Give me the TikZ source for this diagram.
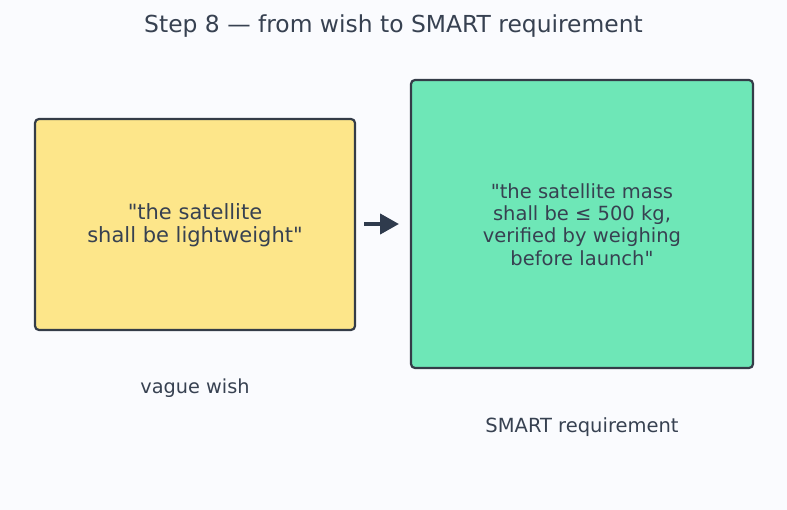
\documentclass[tikz,border=0pt]{standalone}
\usepackage{fontspec}
\setmainfont{DejaVu Sans}[Ligatures=TeXOff]
\usetikzlibrary{arrows.meta}
\definecolor{bg}{HTML}{FAFBFE}
\definecolor{ink}{HTML}{374151}
\definecolor{edge}{HTML}{343C48}
\definecolor{arrowc}{HTML}{2F3B4D}
\definecolor{yel}{HTML}{FDE68A}
\definecolor{grn}{HTML}{6EE7B7}
\begin{document}
\begin{tikzpicture}[x=1pt,y=-1pt,
  box/.style={draw=edge, line width=2.2pt, rounded corners=4pt},
  txt/.style={text=ink, align=center, inner sep=0pt},
]
\fill[bg] (0,0) rectangle (787,510);
\useasboundingbox (0,0) rectangle (787,510);
\node[txt, font=\fontsize{23.4}{28}\selectfont] (title) at (393.5,26) {Step 8 — from wish to SMART requirement};
\draw[box, fill=yel] (35,119) rectangle (355,330);
\draw[box, fill=grn] (411,80) rectangle (753,368);
\coordinate (L) at (195,225.5);
\coordinate (R) at (582,224.5);
\node[txt, font=\fontsize{21}{23}\selectfont] (wish) at (L) {"the satellite\\shall be lightweight"};
\node[txt, font=\fontsize{19.5}{22.3}\selectfont] (smart) at (R) {"the satellite mass\\shall be ≤ 500 kg,\\verified by weighing\\before launch"};
\node[txt, font=\fontsize{19.3}{22}\selectfont] (lab1) at (195,388) {vague wish};
\node[txt, font=\fontsize{19.5}{22}\selectfont] (lab2) at (582,427) {SMART requirement};
\coordinate (a1) at (364,224);
\coordinate (a2) at (399,224);
\draw[arrowc, line width=4.2pt, -{Triangle[length=19pt,width=20pt]}] (a1) -- (a2);
\end{tikzpicture}
\end{document}
